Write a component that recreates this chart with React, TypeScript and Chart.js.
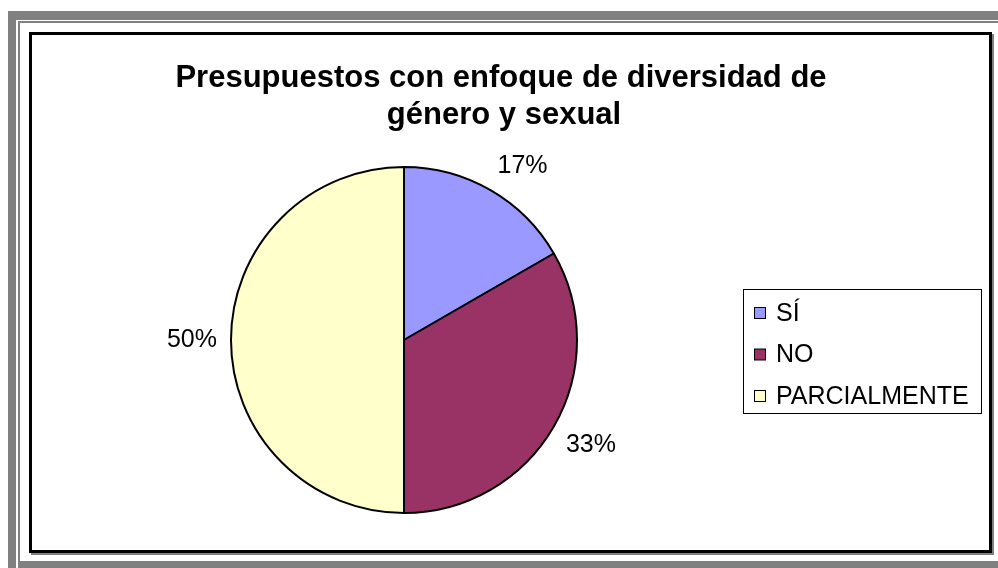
import React, { useEffect, useRef } from "react";
import { Chart, registerables } from "chart.js";

Chart.register(...registerables);

const titleLines = ["Presupuestos con enfoque de diversidad de", "género y sexual"];
const categories = ["SÍ", "NO", "PARCIALMENTE"];
const values = [1, 2, 3];
const colors = ["#9999FF", "#993366", "#FFFFCC"];

const FONT = "'Liberation Sans', Arial, sans-serif";

const overlayPlugin = {
  id: "overlay",
  afterDraw(chart: any) {
    const ctx = chart.ctx as CanvasRenderingContext2D;
    ctx.save();
    // Title
    ctx.fillStyle = "#000";
    ctx.font = `bold 31px ${FONT}`;
    ctx.textAlign = "center";
    ctx.textBaseline = "alphabetic";
    ctx.fillText(titleLines[0], 469, 52);
    ctx.fillText(titleLines[1], 472, 89);

    // Percent labels
    ctx.textBaseline = "middle";
    const meta = chart.getDatasetMeta(0);
    const data = chart.data.datasets[0].data as number[];
    const total = data.reduce((a, b) => a + b, 0);
    ctx.font = `25px ${FONT}`;
    meta.data.forEach((arc: any, i: number) => {
      const p = arc.getProps(["x", "y", "startAngle", "endAngle", "outerRadius"], true);
      const mid = (p.startAngle + p.endAngle) / 2;
      const c = Math.cos(mid);
      const s = Math.sin(mid);
      const d = p.outerRadius + 14;
      const ax = p.x + d * c;
      const ay = p.y + d * s;
      const txt = Math.round((data[i] / total) * 100) + "%";
      const w = ctx.measureText(txt).width;
      const h = 24;
      const sx = Math.abs(c) < 0.1 ? 0 : Math.sign(c);
      const sy = Math.abs(s) < 0.1 ? 0 : Math.sign(s);
      ctx.fillText(txt, ax + (sx * w) / 2, ay + (sy * h) / 2);
    });

    // Legend
    const lx = 711, ly = 254, lw = 238, lh = 124;
    ctx.strokeStyle = "#000";
    ctx.lineWidth = 1;
    ctx.strokeRect(lx + 0.5, ly + 0.5, lw, lh);
    ctx.textAlign = "left";
    chart.data.labels.forEach((lab: string, i: number) => {
      const cy = ly + 24 + i * 41.5;
      ctx.fillStyle = (chart.data.datasets[0].backgroundColor as string[])[i];
      ctx.fillRect(722, cy - 5.5, 11, 11);
      ctx.strokeStyle = "#000";
      ctx.strokeRect(722.5, cy - 5.5, 11, 11);
      ctx.fillStyle = "#000";
      ctx.fillText(lab, 744, cy + 1);
    });
    ctx.restore();
  },
};

export default function App() {
  const ref = useRef<HTMLCanvasElement | null>(null);
  useEffect(() => {
    if (!ref.current) return;
    const chart = new Chart(ref.current, {
      type: "pie",
      data: {
        labels: categories,
        datasets: [
          {
            data: values,
            backgroundColor: colors,
            borderColor: "#000",
            borderWidth: 2,
          },
        ],
      },
      options: {
        responsive: false,
        animation: false,
        layout: { padding: { left: 198, right: 411, top: 131, bottom: 36 } },
        plugins: {
          legend: { display: false },
          title: { display: false },
          tooltip: { enabled: false },
        },
      },
      plugins: [overlayPlugin],
    });
    return () => chart.destroy();
  }, []);

  const gray = "#808080";
  const abs = (l: number, t: number, w: number, h: number, bg: string): React.CSSProperties => ({
    position: "absolute",
    left: l,
    top: t,
    width: w,
    height: h,
    background: bg,
  });

  return (
    <div style={{ position: "fixed", left: 0, top: 0, width: 998, height: 568, background: "#fff", overflow: "hidden" }}>
      <div style={abs(8, 11, 990, 9, gray)} />
      <div style={abs(8, 11, 8, 557, gray)} />
      <div style={abs(18, 21, 980, 2, gray)} />
      <div style={abs(18, 21, 2, 547, gray)} />
      <div style={abs(18, 561, 980, 7, gray)} />
      <div
        style={{
          position: "absolute",
          left: 29,
          top: 32,
          width: 957,
          height: 515,
          border: "3px solid #000",
          boxShadow: "2px 2px 0 #808080",
          background: "#fff",
        }}
      >
        <canvas ref={ref} width={957} height={515} style={{ display: "block", width: 957, height: 515 }} />
      </div>
    </div>
  );
}
